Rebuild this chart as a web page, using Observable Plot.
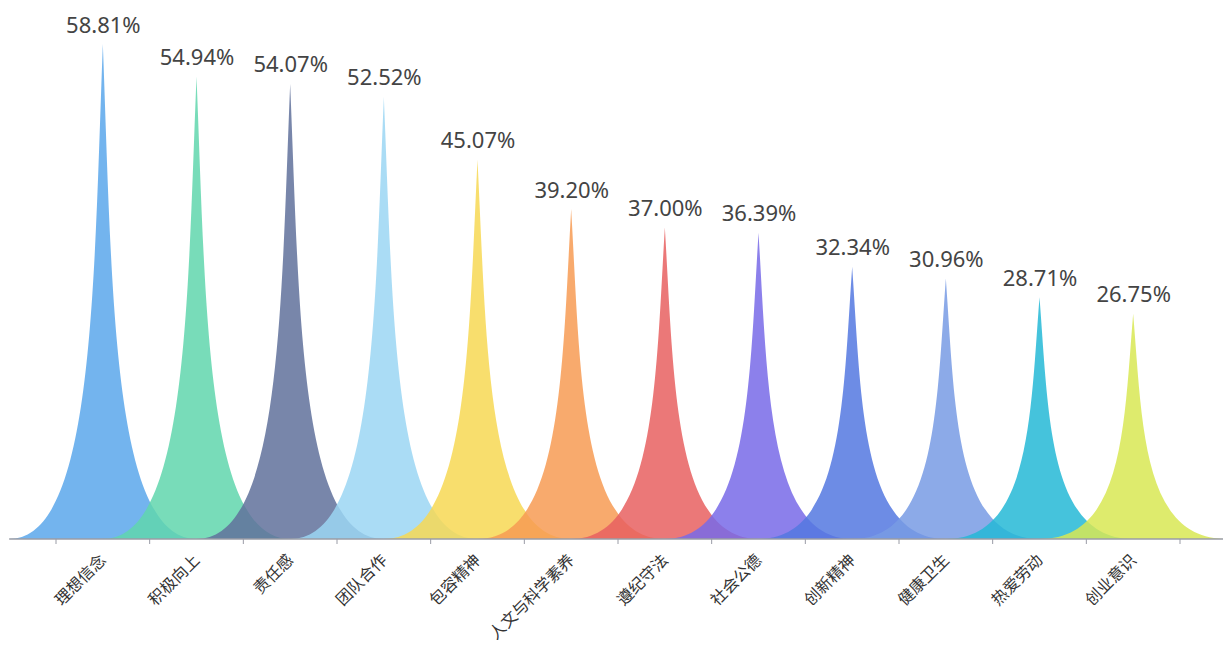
<!DOCTYPE html>
<html><head><meta charset="utf-8">
<script src="https://cdn.jsdelivr.net/npm/d3@7"></script>
<script src="https://cdn.jsdelivr.net/npm/@observablehq/plot@0.6"></script>
<style>html,body{margin:0;padding:0;background:#fff;}</style>
</head><body><div id="chart"></div>
<script>
const categories = ["理想信念","积极向上","责任感","团队合作","包容精神","人文与科学素养","遵纪守法","社会公德","创新精神","健康卫生","热爱劳动","创业意识"];
const values = [58.81, 54.94, 54.07, 52.52, 45.07, 39.20, 37.00, 36.39, 32.34, 30.96, 28.71, 26.75];
const palette = ["#5aa7eb","#60d6ad","#60719b","#9bd6f3","#f7d854","#f79b54","#e76060","#786ae7","#5478e1","#789be4","#25b8d6","#d8e754"];

const data = categories.map((name, i) => ({name, value: values[i]}));

function spikes(index, scales) {
  const x = scales.x, y = scales.y;
  const bw = typeof x.bandwidth === "function" ? x.bandwidth() : x.bandwidth;
  const g = d3.create("svg:g");
  const y0 = y(0);
  data.forEach((d, i) => {
    const cx = x(d.name) + bw / 2;
    const top = y(d.value);
    const h = y0 - top;
    const hw = bw;
    const c = 0.1 * hw;
    const p = `M${cx - hw},${y0}L${cx + hw},${y0}C${cx + c},${y0} ${cx + c},${y0 - h / 2} ${cx},${top}C${cx - c},${y0 - h / 2} ${cx - c},${y0} ${cx - hw},${y0}Z`;
    g.append("path").attr("d", p).attr("fill", palette[i]).attr("fill-opacity", 0.85);
  });
  const x0 = x(categories[0]);
  const n = categories.length;
  g.append("line").attr("x1", x0 - bw / 2).attr("x2", x0 + (n + 0.5) * bw)
    .attr("y1", y0).attr("y2", y0).attr("stroke", "#9a9ca6").attr("stroke-width", 1.5);
  for (let i = 0; i <= n; i++) {
    g.append("line").attr("x1", x0 + i * bw).attr("x2", x0 + i * bw)
      .attr("y1", y0).attr("y2", y0 + 5).attr("stroke", "#9a9ca6");
  }
  return g.node();
}

const chart = Plot.plot({
  width: 1223,
  height: 666,
  marginTop: 34,
  marginBottom: 127,
  marginLeft: 56,
  marginRight: 43,
  style: {fontFamily: "'Noto Sans CJK SC', 'Noto Sans', sans-serif", fontSize: "16px", color: "#333", background: "#fff"},
  x: {type: "band", domain: categories, padding: 0, round: false, tickSize: 0, tickPadding: 18, tickRotate: -45, label: null},
  y: {domain: [0, 60], axis: null},
  marks: [
    spikes,
    Plot.text(data, {x: "name", y: "value", text: d => d.value.toFixed(2) + "%", lineAnchor: "bottom", dy: -12, fontSize: 22, fill: "#444", fontFamily: "'Noto Sans', sans-serif"})
  ]
});
document.getElementById("chart").appendChild(chart);
</script>
</body></html>
